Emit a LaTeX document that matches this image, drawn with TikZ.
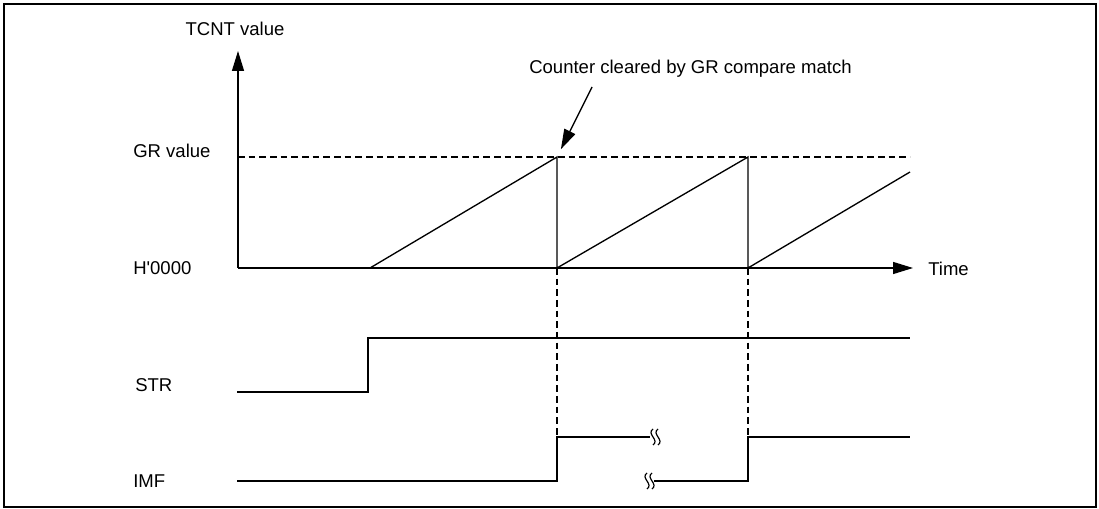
\documentclass[tikz,border=0pt]{standalone}
\usepackage{fontspec}
\setmainfont{Liberation Sans}[Ligatures=TeXOff]
\usetikzlibrary{arrows.meta}
\tikzset{
  sigtext/.style={font=\fontsize{13.9}{16}\selectfont, inner sep=0pt},
  wave/.style={line width=1pt, line join=miter},
  guide/.style={line width=0.9pt, dash pattern=on 5pt off 3pt},
  axisline/.style={line width=1pt, -{Triangle[length=15pt,width=9pt]}},
  callout/.style={line width=1pt, -{Triangle[length=15pt,width=9pt]}, shorten >=6.5pt}
}
% break mark: two small vertical waves centred at (#1,#2)
\newcommand\brkmark[2]{%
  \foreach \dx in {0,5} {
    \draw[line width=0.9pt] ({#1+\dx},{#2-8}) .. controls ({#1+\dx-7},{#2-3}) and ({#1+\dx+7},{#2+3}) .. ({#1+\dx},{#2+8});
  }%
}

\begin{document}
\begin{tikzpicture}[x=0.75pt, y=-0.75pt]

\def\xO{238}    % left end of the time axis
\def\yZero{268} % H'0000 level
\def\yGR{157}   % GR value level
\def\xEnd{910}  % right end of the signals
\def\tA{557}    % first compare match
\def\tB{748}    % second compare match

\useasboundingbox (0,0) rectangle (1099,509);
\draw[line width=1.5pt] (4,4) rectangle (1096,507);

%--- Labels ---
\node[sigtext, anchor=base] (tcnt) at (235,36) {TCNT value};
\node[sigtext, anchor=base west] (grv) at (133,158) {GR value};
\node[sigtext, anchor=base west] (zero) at (133,275) {H'0000};
\node[sigtext, anchor=base west] (str) at (135,392) {STR};
\node[sigtext, anchor=base west] (imf) at (133,487) {IMF};
\node[sigtext, anchor=base west] (time) at (928,276) {Time};
\node[sigtext, anchor=base west] (clr) at (529,74) {Counter cleared by GR compare match};

%--- Counter plot ---
\coordinate (orig) at (\xO,\yZero);
\coordinate (ytop) at (\xO,51);
\coordinate (xtip) at (913,\yZero);
\coordinate (grL) at (\xO,\yGR);
\coordinate (grR) at (\xEnd,\yGR);
\coordinate (r0) at (370,\yZero);
\coordinate (m1top) at (\tA,\yGR);
\coordinate (m1bot) at (\tA,\yZero);
\coordinate (m2top) at (\tB,\yGR);
\coordinate (m2bot) at (\tB,\yZero);
\coordinate (r3) at (\xEnd,172);
\coordinate (clrTail) at (592,87);

\draw[axisline] (orig) -- (ytop);
\draw[axisline] (orig) -- (xtip);
\draw[guide] (grL) -- (grR);
\draw[wave] (r0) -- (m1top) -- (m1bot) -- (m2top) -- (m2bot) -- (r3);
\draw[callout] (clrTail) -- (m1top);

%--- STR ---
\coordinate (s0) at (237,392);
\coordinate (s1) at (368,392);
\coordinate (s2) at (368,338);
\coordinate (s3) at (\xEnd,338);
\draw[wave] (s0) -- (s1) -- (s2) -- (s3);

%--- IMF ---
\coordinate (i0) at (237,481);
\coordinate (i1lo) at (\tA,481);
\coordinate (i1hi) at (\tA,437);
\coordinate (i1brk) at (650,437);
\coordinate (i2brk) at (654,481);
\coordinate (i2lo) at (\tB,481);
\coordinate (i2hi) at (\tB,437);
\coordinate (i3) at (\xEnd,437);

\draw[guide] (m1bot) -- (i1hi);
\draw[guide] (m2bot) -- (i2hi);
\draw[wave] (i0) -- (i1lo) -- (i1hi) -- (i1brk);
\draw[wave] (i2brk) -- (i2lo) -- (i2hi) -- (i3);
\brkmark{653}{437}
\brkmark{647}{481}

\end{tikzpicture}
\end{document}
